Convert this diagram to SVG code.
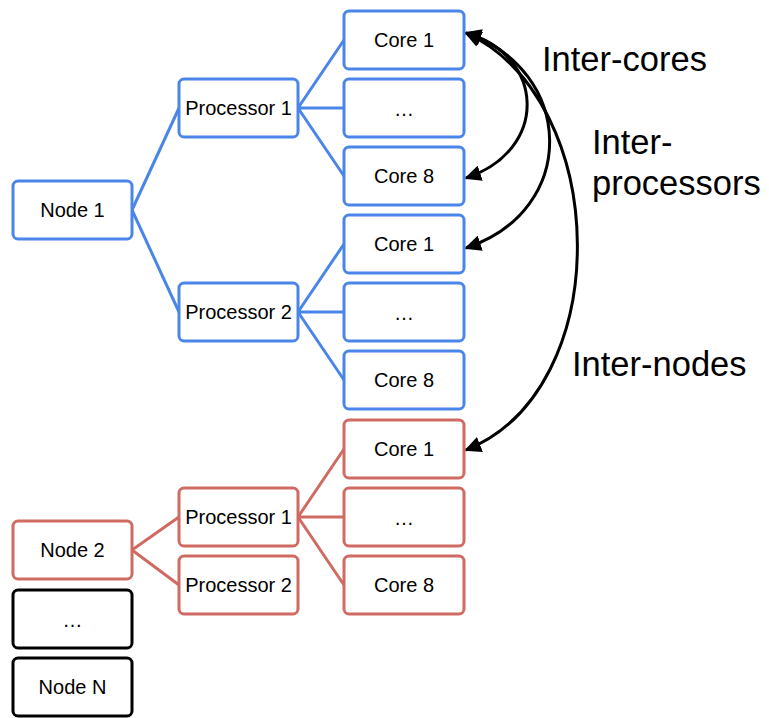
<svg xmlns="http://www.w3.org/2000/svg" width="769" height="718" viewBox="0 0 769 718">
<defs>
<style>
.b{fill:#fff;stroke:#4a86e8;stroke-width:3}
.r{fill:#fff;stroke:#cf6b63;stroke-width:3}
.k{fill:#fff;stroke:#000;stroke-width:3}
.t{font-family:"Liberation Sans",Arial,sans-serif;font-size:20px;fill:#000;text-anchor:middle}
.L{font-family:"Liberation Sans",Arial,sans-serif;font-size:34.5px;fill:#000}
.lb{stroke:#4a86e8;stroke-width:3;fill:none}
.lr{stroke:#cf6b63;stroke-width:3;fill:none}
.arc{stroke:#000;stroke-width:3;fill:none;marker-start:url(#ah);marker-end:url(#ah)}
</style>
<marker id="ah" markerUnits="userSpaceOnUse" markerWidth="18" markerHeight="16" refX="15" refY="8" orient="auto-start-reverse">
<path d="M0,0 L17,8 L0,16 z" fill="#000"/>
</marker>
</defs>
<g id="connectors">
<path class="lb" d="M132,210 L179,108 M132,210 L179,312"/>
<path class="lb" d="M298,108 L344,40 M298,108 L344,108 M298,108 L344,176"/>
<path class="lb" d="M298,312 L344,244 M298,312 L344,312 M298,312 L344,380"/>
<path class="lr" d="M132,550 L179,517 M132,550 L179,585"/>
<path class="lr" d="M298,517 L344,449 M298,517 L344,517 M298,517 L344,585"/>
<path class="arc" d="M466,33 C545,55 550,150 466,178"/>
<path class="arc" d="M466,33 C575,70 580,210 466,248"/>
<path class="arc" d="M466,33 C612,100 617,390 466,450"/>
</g>
<g id="node1"><rect class="b" x="13" y="181" width="119" height="58" rx="5"/><text class="t" x="72.5" y="217">Node 1</text></g>
<g id="proc1a"><rect class="b" x="179" y="79" width="119" height="58" rx="5"/><text class="t" x="238.5" y="115">Processor 1</text></g>
<g id="proc2a"><rect class="b" x="179" y="283" width="119" height="58" rx="5"/><text class="t" x="238.5" y="319">Processor 2</text></g>
<g id="core1a"><rect class="b" x="344" y="11" width="120" height="58" rx="5"/><text class="t" x="404" y="47">Core 1</text></g>
<g id="coreDa"><rect class="b" x="344" y="79" width="120" height="58" rx="5"/><text class="t" x="404" y="116">…</text></g>
<g id="core8a"><rect class="b" x="344" y="147" width="120" height="58" rx="5"/><text class="t" x="404" y="183">Core 8</text></g>
<g id="core1b"><rect class="b" x="344" y="215" width="120" height="58" rx="5"/><text class="t" x="404" y="251">Core 1</text></g>
<g id="coreDb"><rect class="b" x="344" y="283" width="120" height="58" rx="5"/><text class="t" x="404" y="320">…</text></g>
<g id="core8b"><rect class="b" x="344" y="351" width="120" height="58" rx="5"/><text class="t" x="404" y="387">Core 8</text></g>
<g id="node2"><rect class="r" x="13" y="521" width="119" height="58" rx="5"/><text class="t" x="72.5" y="557">Node 2</text></g>
<g id="proc1c"><rect class="r" x="179" y="488" width="119" height="58" rx="5"/><text class="t" x="238.5" y="524">Processor 1</text></g>
<g id="proc2c"><rect class="r" x="179" y="556" width="119" height="58" rx="5"/><text class="t" x="238.5" y="592">Processor 2</text></g>
<g id="core1c"><rect class="r" x="344" y="420" width="120" height="58" rx="5"/><text class="t" x="404" y="456">Core 1</text></g>
<g id="coreDc"><rect class="r" x="344" y="488" width="120" height="58" rx="5"/><text class="t" x="404" y="525">…</text></g>
<g id="core8c"><rect class="r" x="344" y="556" width="120" height="58" rx="5"/><text class="t" x="404" y="592">Core 8</text></g>
<g id="nodeD"><rect class="k" x="13" y="590" width="119" height="58" rx="5"/><text class="t" x="72.5" y="627">…</text></g>
<g id="nodeN"><rect class="k" x="13" y="658" width="119" height="58" rx="5"/><text class="t" x="72.5" y="694">Node N</text></g>
<g id="labels">
<text class="L" x="542" y="71">Inter-cores</text>
<text class="L" x="592" y="154">Inter-</text>
<text class="L" x="592" y="195">processors</text>
<text class="L" x="572" y="376">Inter-nodes</text>
</g>
</svg>
